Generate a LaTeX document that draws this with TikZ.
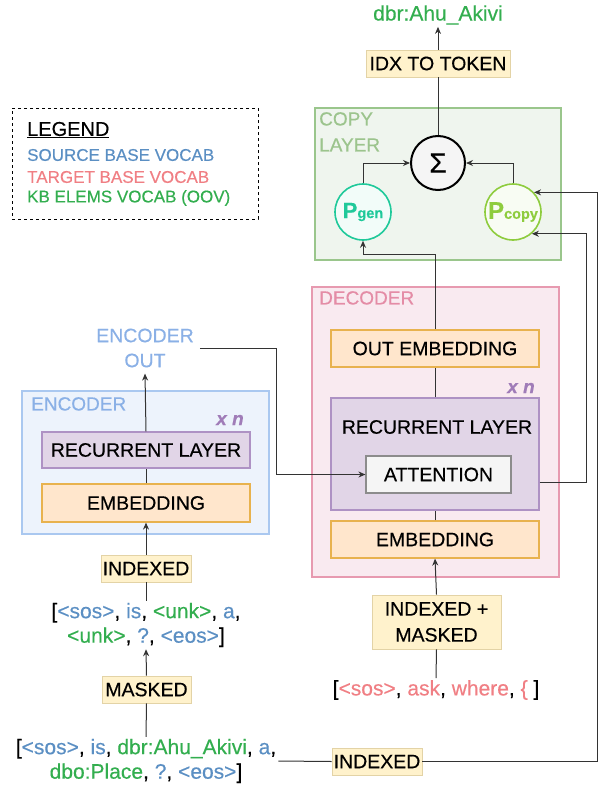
\documentclass[tikz,border=0pt]{standalone}
\usepackage{fontspec}
\setmainfont{Liberation Sans}[FakeBold=0.4]
\usetikzlibrary{arrows.meta}
\definecolor{srcblue}{HTML}{5B8FC3}
\definecolor{tgtpink}{HTML}{F07F84}
\definecolor{kbgreen}{HTML}{33AE4F}
\definecolor{yfill}{HTML}{FFF2CC}
\definecolor{yline}{HTML}{E3D3A6}
\definecolor{ofill}{HTML}{FFE6CC}
\definecolor{oline}{HTML}{E8B24E}
\definecolor{pfill}{HTML}{E1D5E7}
\definecolor{pline}{HTML}{AE92C4}
\definecolor{xncol}{HTML}{A07CB8}
\definecolor{encfill}{HTML}{EDF3FC}
\definecolor{encline}{HTML}{AAC8F0}
\definecolor{enctext}{HTML}{8AB0E6}
\definecolor{decfill}{HTML}{F9EAF0}
\definecolor{decline}{HTML}{E79AB0}
\definecolor{dectext}{HTML}{E48CA6}
\definecolor{cpfill}{HTML}{EFF5EE}
\definecolor{cpline}{HTML}{9AC68C}
\definecolor{cptext}{HTML}{9CC48D}
\definecolor{gencol}{HTML}{1FC99A}
\definecolor{copycol}{HTML}{8ECC3E}
\definecolor{conn}{HTML}{333333}
\tikzset{
  lbl/.style={font=\fontsize{19.5}{23}\selectfont, text=black},
  sent/.style={font=\fontsize{21}{24.5}\selectfont, align=center, text=black, inner sep=2pt},
  ybox/.style={lbl, fill=yfill, draw=yline, line width=0.8pt, inner sep=0pt, align=center},
  obox/.style={lbl, fill=ofill, draw=oline, line width=1.2pt, minimum width=208, minimum height=37, inner sep=0pt},
  pbox/.style={lbl, fill=pfill, draw=pline, line width=1.2pt, minimum width=208, inner sep=0pt},
  region/.style={line width=2pt, inner sep=0pt},
  grp/.style={font=\fontsize{19}{26}\selectfont, anchor=north west, align=left, inner sep=0pt},
  xn/.style={font=\fontsize{19}{19}\selectfont\bfseries\itshape, text=xncol},
  circ/.style={circle, line width=1.6pt, minimum size=56, inner sep=0pt},
  arr/.style={draw=conn, line width=1pt, -{Stealth[length=7pt,width=6pt]}},
  ln/.style={draw=conn, line width=1pt},
}
\begin{document}
\begin{tikzpicture}[x=1pt,y=-1pt]
\path[use as bounding box] (0,0) rectangle (600,787);

% legend
\node[draw=black, dashed, line width=0.8pt, minimum width=246, minimum height=111, inner sep=0pt] (legend) at (135,163.5) {};
\node[anchor=west, inner sep=0pt, font=\fontsize{20}{20}\selectfont] (lg0) at (27,130) {\underline{LEGEND}};
\node[anchor=west, inner sep=0pt, font=\fontsize{17}{17}\selectfont, text=srcblue] (lg1) at (27,155) {SOURCE BASE VOCAB};
\node[anchor=west, inner sep=0pt, font=\fontsize{17}{17}\selectfont, text=tgtpink] (lg2) at (27,177) {TARGET BASE VOCAB};
\node[anchor=west, inner sep=0pt, font=\fontsize{17}{17}\selectfont, text=kbgreen] (lg3) at (27,198) {KB ELEMS VOCAB (OOV)};

% copy layer
\node[region, fill=cpfill, draw=cpline, minimum width=246, minimum height=152] (copy) at (438,184) {};
\node[grp, text=cptext] (copylbl) at (319,112) {COPY\\LAYER};
\node[circ, draw=black, fill=white!96!black, line width=2pt, minimum size=54] (sigma) at (438,163) {\fontsize{28}{28}\selectfont Σ};
\node[circ, draw=gencol, fill=gencol!6, text=gencol] (pgen) at (363,212) {\bfseries\fontsize{22}{22}\selectfont P\fontsize{14.5}{14.5}\selectfont gen};
\node[circ, draw=copycol, fill=copycol!6, text=copycol] (pcopy) at (513,212) {\bfseries\fontsize{24}{24}\selectfont P\fontsize{14.5}{14.5}\selectfont copy};

% output
\node[ybox, minimum width=144, minimum height=27] (idx) at (438,63.5) {IDX TO TOKEN};
\node[font=\fontsize{21}{21}\selectfont, text=kbgreen, inner sep=2pt] (out) at (438,15) {dbr:Ahu\_Akivi};

% decoder
\node[region, fill=decfill, draw=decline, minimum width=247, minimum height=290] (dec) at (435.5,432) {};
\node[grp, text=dectext] (declbl) at (319,291) {DECODER};
\node[obox] (oemb) at (435,348.5) {OUT EMBEDDING};
\node[xn] (xnd) at (521,388) {x n};
\node[pbox, minimum height=112] (drec) at (435,454) {};
\node[lbl, inner sep=0pt] (dreclbl) at (437,427) {RECURRENT LAYER};
\node[lbl, fill=white!96!black, draw=black!45, line width=1.2pt, minimum width=145, minimum height=37, inner sep=0pt] (att) at (438.5,474.5) {ATTENTION};
\node[obox] (demb) at (435,539.5) {EMBEDDING};
\node[ybox, minimum width=129, minimum height=54, font=\fontsize{19.5}{26}\selectfont] (idxm) at (436.5,622) {INDEXED +\\MASKED};
\node[sent] (tsent) at (436,690) {[{\color{tgtpink}<sos>}, {\color{tgtpink}ask}, {\color{tgtpink}where}, {\color{tgtpink}\{} ]};
\node[ybox, minimum width=90, minimum height=27] (botidx) at (377,761.5) {INDEXED};

% encoder
\node[region, fill=encfill, draw=encline, minimum width=247, minimum height=143] (enc) at (145.5,462.5) {};
\node[grp, text=enctext] (enclbl) at (31,397) {ENCODER};
\node[xn] (xne) at (230,420) {x n};
\node[pbox, minimum height=36] (erec) at (146,450) {RECURRENT LAYER};
\node[obox, minimum height=38] (eemb) at (146,503) {EMBEDDING};
\node[font=\fontsize{19.5}{25}\selectfont, text=enctext, align=center, inner sep=6pt] (encout) at (145,348) {ENCODER\\OUT};
\node[ybox, minimum width=90, minimum height=27] (eidx) at (146,568.5) {INDEXED};
\node[sent] (sent1) at (146,625) {[{\color{srcblue}<sos>}, {\color{srcblue}is}, {\color{kbgreen}<unk>}, {\color{srcblue}a},\\{\color{kbgreen}<unk>}, {\color{srcblue}?}, {\color{srcblue}<eos>}]};
\node[ybox, minimum width=89, minimum height=27] (masked) at (146.5,689.5) {MASKED};
\node[sent] (sent2) at (146,761) {[{\color{srcblue}<sos>}, {\color{srcblue}is}, {\color{kbgreen}dbr:Ahu\_Akivi}, {\color{srcblue}a},\\{\color{kbgreen}dbo:Place}, {\color{srcblue}?}, {\color{srcblue}<eos>}]};

% helper coordinates
\coordinate (jpg) at (435,254);
\coordinate (r1) at (586,482);
\coordinate (r2) at (597,761.5);

% encoder connectors
\draw[ln] (sent2.north) -- (masked.south);
\draw[arr] (masked.north) -- (sent1.south);
\draw[ln] (sent1.north) -- (eidx.south);
\draw[arr] (eidx.north) -- (eemb.south);
\draw[ln] (eemb.north) -- (erec.south);
\draw[arr] (erec.north) -- (encout.south);
\draw[arr] (encout.east) -- ++(77,0) |- (att.west);

% decoder connectors
\draw[ln] (tsent.north) -- (idxm.south);
\draw[arr] (idxm.north) -- (demb.south);
\draw[ln] (demb.north) -- (drec.south);
\draw[ln] (drec.north) -- (oemb.south);
\draw[arr] (oemb.north) -- (jpg) -| (pgen.south);
\draw[arr] (r1 -| drec.east) -- (r1) |- (pcopy.-49);
\draw[ln] (sent2.east) -- (botidx.west);
\draw[arr] (botidx.east) -- (r2) |- (pcopy.43);

% copy layer connectors
\draw[arr] (pgen.north) |- (sigma.west);
\draw[arr] (pcopy.north) |- (sigma.east);
\draw[ln] (sigma.north) -- (idx.south);
\draw[arr] (idx.north) -- (out.south);
\end{tikzpicture}
\end{document}
